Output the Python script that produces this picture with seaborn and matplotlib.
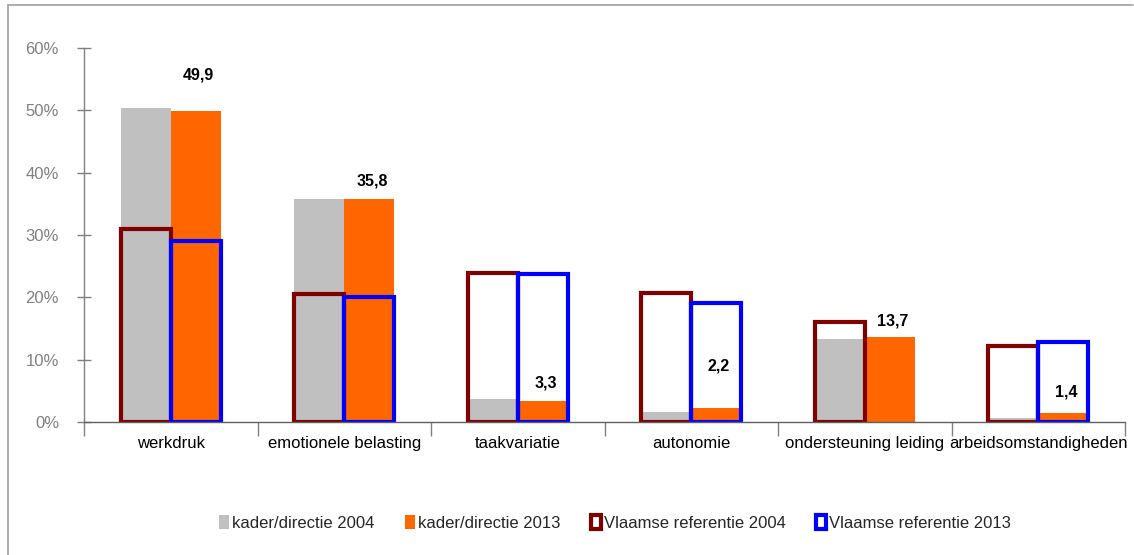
import matplotlib
matplotlib.use("Agg")
import matplotlib.pyplot as plt
from matplotlib.patches import Patch
from matplotlib.lines import Line2D
from matplotlib.ticker import FuncFormatter, FixedLocator
import pandas as pd
import numpy as np
import seaborn as sns

sns.set_theme(style="white")
plt.rcParams['font.family'] = ['Liberation Sans', 'DejaVu Sans']

# data (percentages)
categories = ["werkdruk", "emotionele belasting", "taakvariatie", "autonomie",
              "ondersteuning leiding", "arbeidsomstandigheden"]
kader_2004 = [50.4, 35.8, 3.7, 1.6, 13.3, 0.6]
kader_2013 = [49.9, 35.8, 3.3, 2.2, 13.7, 1.4]
vl_ref_2004 = [31.0, 20.5, 23.9, 20.7, 16.0, 12.2]
vl_ref_2013 = [29.0, 20.0, 23.7, 19.1, np.nan, 12.8]
label_texts = ["49,9", "35,8", "3,3", "2,2", "13,7", "1,4"]
label_offsets_px = [36, 18, 18, 42, 16, 21]

GREY = "#C0C0C0"
ORANGE = "#FF6600"
DARKRED = "#800000"
BLUE = "#0000FF"

df_fill = pd.DataFrame({
    "cat": categories * 2,
    "val": kader_2004 + kader_2013,
    "serie": ["kader/directie 2004"] * 6 + ["kader/directie 2013"] * 6,
})
df_ref = pd.DataFrame({
    "cat": categories * 2,
    "val": vl_ref_2004 + vl_ref_2013,
    "serie": ["Vlaamse referentie 2004"] * 6 + ["Vlaamse referentie 2013"] * 6,
})

fig = plt.figure(figsize=(11.34, 5.55), dpi=100)
ax = fig.add_axes([84 / 1134, 1 - 422 / 555, (1125 - 84) / 1134, (422 - 48) / 555])

W = 0.576
sns.barplot(data=df_fill, x="cat", y="val", hue="serie", order=categories,
            palette=[GREY, ORANGE], width=W, saturation=1, edgecolor="none",
            linewidth=0, errorbar=None, legend=False, ax=ax)
sns.barplot(data=df_ref, x="cat", y="val", hue="serie", order=categories,
            palette=[DARKRED, BLUE], width=W, fill=False, linewidth=3,
            errorbar=None, legend=False, ax=ax)

# value labels above the orange bars
for i, (v, txt, off) in enumerate(zip(kader_2013, label_texts, label_offsets_px)):
    ax.annotate(txt, (i + W / 4, v), xytext=(2, off * 0.72), textcoords="offset points",
                ha="center", va="center", fontsize=11.5, fontweight="bold", color="black")

ax.set_xlim(-0.5, len(categories) - 0.5)
ax.set_ylim(0, 60)
ax.yaxis.set_major_locator(FixedLocator(np.arange(0, 61, 10)))
ax.yaxis.set_major_formatter(FuncFormatter(lambda y, _: f"{int(y)}%"))
ax.tick_params(axis="y", direction="inout", length=10, width=1, color="#808080",
               labelcolor="#808080", labelsize=12, pad=13, left=True)

ax.set_xticks(range(len(categories)))
ax.set_xticklabels(categories)
ax.set_xticks(np.arange(-0.5, len(categories), 1), minor=True)
ax.tick_params(axis="x", which="major", length=0, labelsize=12, labelcolor="black", pad=10)
ax.tick_params(axis="x", which="minor", direction="out", length=10, width=1,
               color="#808080", bottom=True)
ax.set_xlabel("")
ax.set_ylabel("")
ax.grid(False)

for side in ["top", "right"]:
    ax.spines[side].set_visible(False)
ax.spines["left"].set_color("#808080")
ax.spines["bottom"].set_color("#606060")
ax.spines["left"].set_linewidth(1)
ax.spines["bottom"].set_linewidth(1)

handles = [
    Patch(facecolor=GREY, edgecolor="none"),
    Patch(facecolor=ORANGE, edgecolor="none"),
    Patch(facecolor="white", edgecolor=DARKRED, linewidth=3),
    Patch(facecolor="white", edgecolor=BLUE, linewidth=3),
]
labels = ["kader/directie 2004", "kader/directie 2013",
          "Vlaamse referentie 2004", "Vlaamse referentie 2013"]
fig.legend(handles, labels, loc="center", bbox_to_anchor=(615 / 1134, 1 - 523 / 555),
           ncol=4, frameon=False, fontsize=12, handlelength=0.6, handleheight=0.9,
           handletextpad=0.2, columnspacing=1.8)

# chart frame (top and left edges)
fig.add_artist(Line2D([8 / 1134, 1133 / 1134], [1 - 5 / 555, 1 - 5 / 555],
                      transform=fig.transFigure, color="#A0A0A0", linewidth=1.2))
fig.add_artist(Line2D([8 / 1134, 8 / 1134], [0, 1 - 5 / 555],
                      transform=fig.transFigure, color="#A0A0A0", linewidth=1.2))

fig.savefig("out.png", dpi=100)
